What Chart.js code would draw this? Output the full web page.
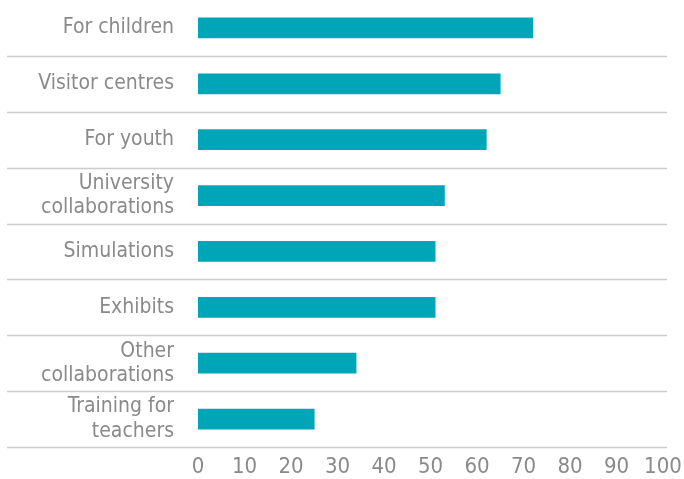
<!DOCTYPE html>
<html>
<head>
<meta charset="utf-8">
<script src="https://cdn.jsdelivr.net/npm/chart.js@4/dist/chart.umd.min.js"></script>
<style>
  html, body { margin: 0; padding: 0; background: #fff; }
  #wrap { width: 684px; height: 479px; position: relative; }
</style>
</head>
<body>
<div id="wrap"><canvas id="chart"></canvas></div>
<script>
var categories = [
    'For children',
    'Visitor centres',
    'For youth',
    ['University', 'collaborations'],
    'Simulations',
    'Exhibits',
    ['Other', 'collaborations'],
    ['Training for', 'teachers']
]
var values = [72, 65, 62, 53, 51, 51, 34, 25]
var xTicks = [0, 10, 20, 30, 40, 50, 60, 70, 80, 90, 100]

var teal = '#00a5b8'
var grey = '#8a8a8a'
var FONT = '"DejaVu Sans Condensed", "DejaVu Sans", sans-serif'

// horizontal separators between rows, running under the labels too
var rowLines = {
    id: 'rowLines',
    beforeDatasetsDraw: function(chart) {
        var y = chart.scales.y
        var ctx = chart.ctx
        ctx.save()
        ctx.strokeStyle = '#cccccc'
        ctx.lineWidth = 1.5
        for (var i = 1; i <= categories.length; i++) {
            var py = Math.round(y.getPixelForValue(i - 0.5)) + 0.5
            ctx.beginPath()
            ctx.moveTo(7, py)
            ctx.lineTo(667, py)
            ctx.stroke()
        }
        ctx.restore()
    }
}

new Chart(document.getElementById('chart'), {
    type: 'bar',
    data: {
        labels: categories,
        datasets: [{
            data: values,
            backgroundColor: teal,
            barThickness: 20
        }]
    },
    options: {
        indexAxis: 'y',
        responsive: true,
        maintainAspectRatio: false,
        animation: false,
        layout: { padding: 0 },
        plugins: {
            legend: { display: false },
            tooltip: { enabled: false }
        },
        scales: {
            x: {
                min: 0,
                max: 100,
                afterBuildTicks: function(axis) {
                    axis.ticks = xTicks.map(function(v) { return { value: v } })
                },
                afterFit: function(axis) {
                    axis.height = 32
                    axis.paddingRight = 21
                },
                grid: { display: false, drawTicks: false },
                border: { display: false },
                ticks: {
                    color: grey,
                    padding: 7,
                    maxRotation: 0,
                    font: { family: FONT, size: 22, weight: 'condensed' }
                }
            },
            y: {
                grid: { display: false, drawTicks: false },
                border: { display: false },
                afterFit: function(axis) {
                    axis.width = 198
                    axis.paddingTop = 0
                    axis.paddingBottom = 0
                },
                ticks: {
                    color: grey,
                    padding: 24,
                    autoSkip: false,
                    font: { family: FONT, size: 21, weight: 'condensed', lineHeight: 1.15 }
                }
            }
        }
    },
    plugins: [rowLines]
});
</script>
</body>
</html>
